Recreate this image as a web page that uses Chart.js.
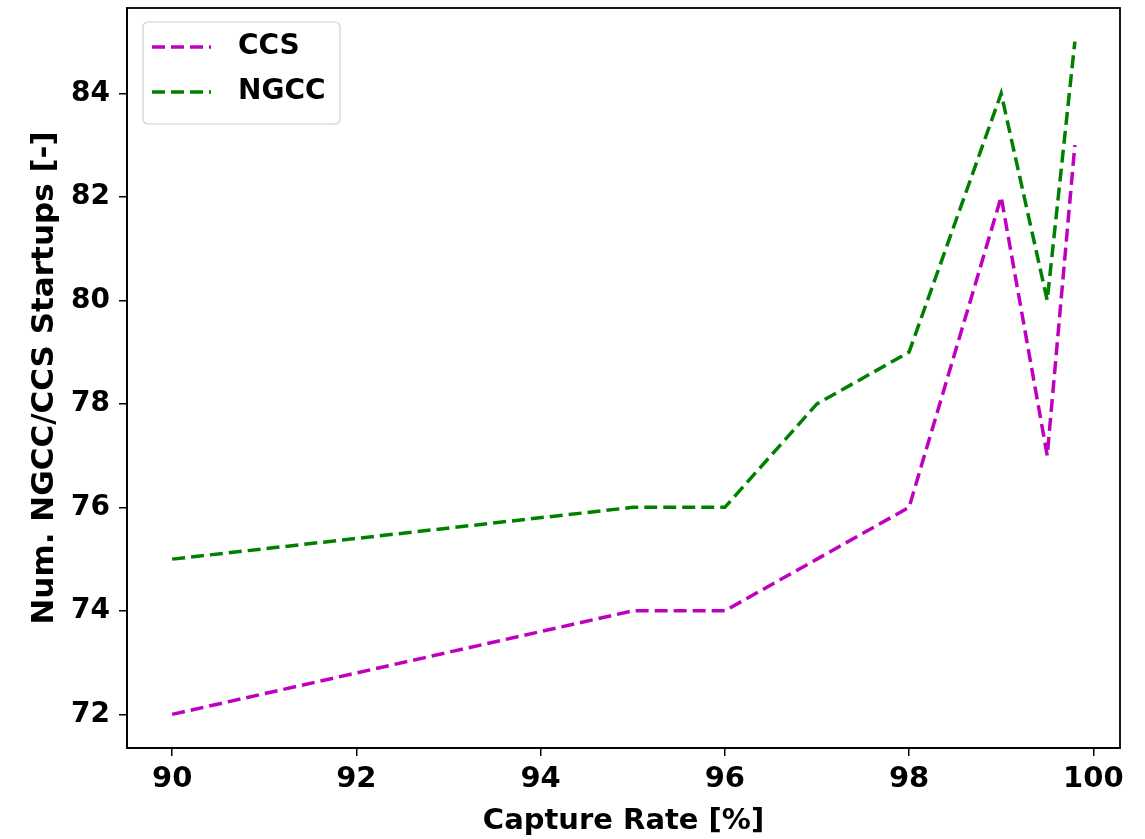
<!DOCTYPE html>
<html>
<head>
<meta charset="utf-8">
<style>
  body { margin: 0; background: #fff; }
</style>
</head>
<body>
<canvas id="grafico" width="1145" height="839"></canvas>
<script src="https://cdn.jsdelivr.net/npm/chart.js"></script>
<script>
    // datos
    const tasaCaptura = [90, 95, 96, 97, 98, 99, 99.5, 99.8];
    const arranquesCCS = [72, 74, 74, 75, 76, 82, 77, 83];
    const arranquesNGCC = [75, 76, 76, 78, 79, 84, 80, 85];
    const ticksX = [90, 92, 94, 96, 98, 100];
    const ticksY = [72, 74, 76, 78, 80, 82, 84];

    const fuente = "'DejaVu Sans', sans-serif";

    function puntos(xs, ys) {
        return xs.map((x, i) => ({ x: x, y: ys[i] }));
    }

    // marco superior/derecho y leyenda dentro del area
    const marcoYLeyenda = {
        id: 'marcoYLeyenda',
        afterDraw(chart) {
            const ctx = chart.ctx;
            const a = chart.chartArea;
            ctx.save();
            ctx.strokeStyle = '#000';
            ctx.lineWidth = 1.8;
            ctx.strokeRect(a.left, a.top, a.right - a.left, a.bottom - a.top);

            // leyenda
            const x0 = a.left + 16, y0 = a.top + 14, w = 197, h = 102;
            ctx.fillStyle = 'rgba(255,255,255,0.8)';
            ctx.strokeStyle = '#d0d0d0';
            ctx.lineWidth = 1.2;
            ctx.beginPath();
            ctx.roundRect(x0, y0, w, h, 5);
            ctx.fill();
            ctx.stroke();
            chart.data.datasets.forEach((ds, i) => {
                const yy = y0 + 25 + i * 45;
                ctx.strokeStyle = ds.borderColor;
                ctx.lineWidth = 3.5;
                ctx.setLineDash([13, 6]);
                ctx.beginPath();
                ctx.moveTo(x0 + 9, yy);
                ctx.lineTo(x0 + 68, yy);
                ctx.stroke();
                ctx.setLineDash([]);
                ctx.fillStyle = '#000';
                ctx.font = 'bold 28px ' + fuente;
                ctx.textBaseline = 'middle';
                ctx.fillText(ds.label, x0 + 95, yy);
            });
            ctx.restore();
        }
    };

    const ctx = document.getElementById('grafico').getContext('2d');
    new Chart(ctx, {
        type: 'line',
        data: {
            datasets: [{
                label: 'CCS',
                data: puntos(tasaCaptura, arranquesCCS),
                borderColor: '#bf00bf',
                borderWidth: 3.5,
                borderDash: [13, 6],
                borderCapStyle: 'butt',
                pointRadius: 0,
                fill: false,
                tension: 0
            }, {
                label: 'NGCC',
                data: puntos(tasaCaptura, arranquesNGCC),
                borderColor: '#008000',
                borderWidth: 3.5,
                borderDash: [13, 6],
                borderCapStyle: 'butt',
                pointRadius: 0,
                fill: false,
                tension: 0
            }]
        },
        options: {
            responsive: false,
            animation: false,
            layout: { padding: { top: 8, right: 25, bottom: 0, left: 0 } },
            plugins: {
                legend: { display: false },
                tooltip: { enabled: false }
            },
            scales: {
                x: {
                    type: 'linear',
                    min: 89.51,
                    max: 100.29,
                    afterBuildTicks: (s) => { s.ticks = ticksX.map(v => ({ value: v })); },
                    afterFit: (s) => { s.height = 91; s.paddingLeft = 0; s.paddingRight = 0; },
                    grid: { drawOnChartArea: false, drawTicks: true, tickLength: 8, color: '#000', lineWidth: 1.5 },
                    border: { display: true, color: '#000', width: 1.8 },
                    ticks: { color: '#000', font: { family: fuente, size: 29, weight: 'bold' }, padding: 6, maxRotation: 0 },
                    title: { display: true, text: 'Capture Rate [%]', color: '#000', font: { family: fuente, size: 29, weight: 'bold' }, padding: 0 }
                },
                y: {
                    min: 71.35,
                    max: 85.65,
                    afterBuildTicks: (s) => { s.ticks = ticksY.map(v => ({ value: v })); },
                    afterFit: (s) => { s.width = 127; s.paddingTop = 0; s.paddingBottom = 0; },
                    grid: { drawOnChartArea: false, drawTicks: true, tickLength: 8, color: '#000', lineWidth: 1.5 },
                    border: { display: true, color: '#000', width: 1.8 },
                    ticks: { color: '#000', font: { family: fuente, size: 28, weight: 'bold' }, padding: 9 },
                    title: { display: true, text: 'Num. NGCC/CCS Startups [-]', color: '#000', font: { family: fuente, size: 31, weight: 'bold' }, padding: { top: 26, bottom: 0 } }
                }
            }
        },
        plugins: [marcoYLeyenda]
    });
</script>
</body>
</html>
